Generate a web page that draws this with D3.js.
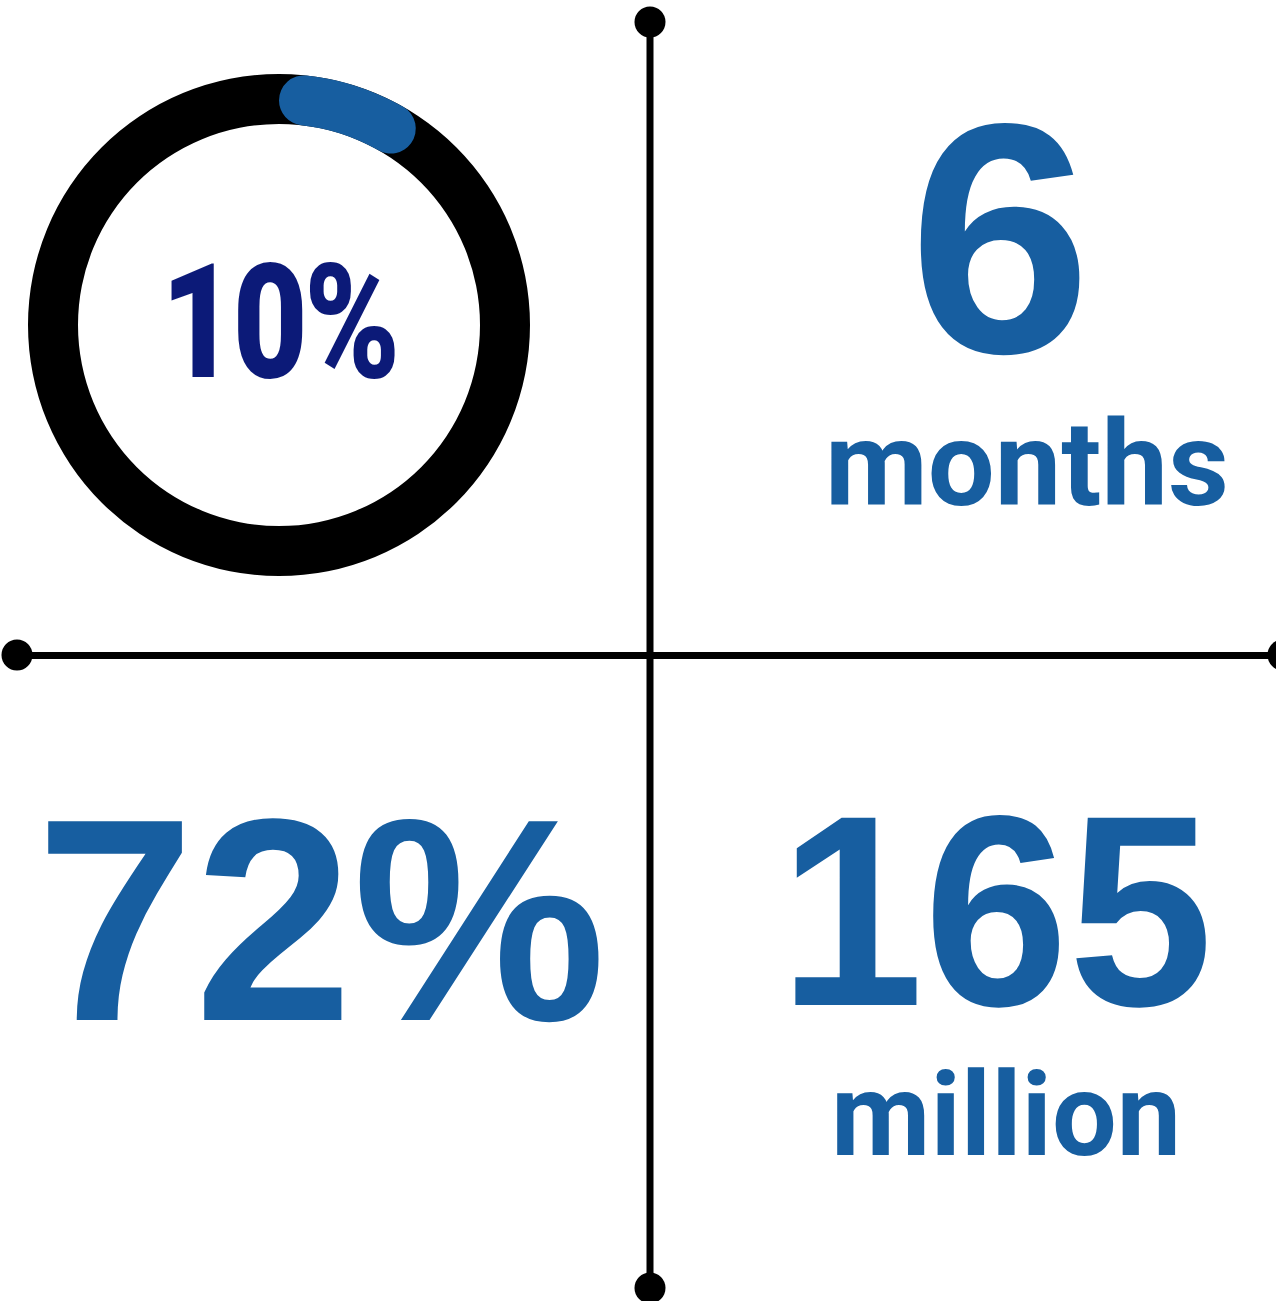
<!DOCTYPE html>
<html>
<head>
<meta charset="utf-8">
<script src="https://cdn.jsdelivr.net/npm/d3@7"></script>
<style>
  body { margin: 0; background: #fff; }
  svg { display: block; }
</style>
</head>
<body>
<svg width="1276" height="1301"></svg>
<script>
// values
const ringPercent = [10];
const statValues = ["10%", "6", "72%", "165"];
const statUnits = ["", "months", "", "million"];

const svg = d3.select("svg"),
      blue = "#175ea0",
      navy = "#0c1a78";

// cross layout, -1..1 on each axis
const x = d3.scaleLinear().domain([-1, 1]).range([17, 1283]);
const y = d3.scaleLinear().domain([-1, 1]).range([22, 1288]);

const cross = svg.append("g");
cross.append("line")
  .attr("x1", x(0)).attr("x2", x(0))
  .attr("y1", y(-1)).attr("y2", y(1))
  .attr("stroke", "#000").attr("stroke-width", 7);
cross.append("line")
  .attr("x1", x(-1)).attr("x2", x(1))
  .attr("y1", y(0) + 0.5).attr("y2", y(0) + 0.5)
  .attr("stroke", "#000").attr("stroke-width", 7);
[[0, -1], [0, 1], [-1, 0], [1, 0]].forEach(p => {
  cross.append("circle")
    .attr("cx", x(p[0])).attr("cy", y(p[1]))
    .attr("r", 15.5).attr("fill", "#000");
});

// donut
const angle = d3.scaleLinear().domain([0, 100]).range([0, 2 * Math.PI]);
const ring = svg.append("g").attr("transform", "translate(279,325)");
const arc = d3.arc().innerRadius(201).outerRadius(251);

ring.append("path")
  .attr("d", arc({startAngle: 0, endAngle: angle(100)}))
  .attr("fill", "#000");

ring.selectAll("path.val")
  .data(ringPercent)
  .join("path")
  .attr("class", "val")
  .attr("d", d => arc.cornerRadius(25)({startAngle: angle(0), endAngle: angle(d)}))
  .attr("fill", blue);

ring.append("text")
  .attr("x", 0)
  .attr("y", 52)
  .attr("text-anchor", "middle")
  .attr("textLength", 236)
  .attr("lengthAdjust", "spacingAndGlyphs")
  .style("font-family", "Roboto, sans-serif")
  .style("font-weight", 900)
  .style("font-size", "160px")
  .style("letter-spacing", "-4px")
  .attr("fill", navy)
  .text(statValues[0]);

// big numbers
const bigFont = "'Liberation Sans', Arial, sans-serif";
const unitFont = "Roboto, 'Open Sans', sans-serif";

svg.append("text")
  .attr("x", 1000).attr("y", 352)
  .attr("text-anchor", "middle")
  .style("font-family", bigFont).style("font-weight", "bold")
  .style("font-size", "328px")
  .attr("fill", blue)
  .text(statValues[1]);

svg.append("text")
  .attr("x", 1027).attr("y", 505)
  .attr("text-anchor", "middle")
  .attr("textLength", 404)
  .attr("lengthAdjust", "spacingAndGlyphs")
  .style("font-family", unitFont).style("font-weight", "bold")
  .style("font-size", "118px")
  .attr("fill", blue)
  .text(statUnits[1]);

svg.append("text")
  .attr("x", 321).attr("y", 1020)
  .attr("text-anchor", "middle")
  .attr("textLength", 570)
  .attr("lengthAdjust", "spacingAndGlyphs")
  .style("font-family", bigFont).style("font-weight", "bold")
  .style("font-size", "289px")
  .attr("fill", blue)
  .text(statValues[2]);

svg.append("text")
  .attr("x", 996).attr("y", 1005)
  .attr("text-anchor", "middle")
  .attr("textLength", 434)
  .attr("lengthAdjust", "spacingAndGlyphs")
  .style("font-family", bigFont).style("font-weight", "bold")
  .style("font-size", "272px")
  .attr("fill", blue)
  .text(statValues[3]);

svg.append("text")
  .attr("x", 1006).attr("y", 1155)
  .attr("text-anchor", "middle")
  .attr("textLength", 350)
  .attr("lengthAdjust", "spacingAndGlyphs")
  .style("font-family", unitFont).style("font-weight", "bold")
  .style("font-size", "116px")
  .attr("fill", blue)
  .text(statUnits[3]);
</script>
</body>
</html>
